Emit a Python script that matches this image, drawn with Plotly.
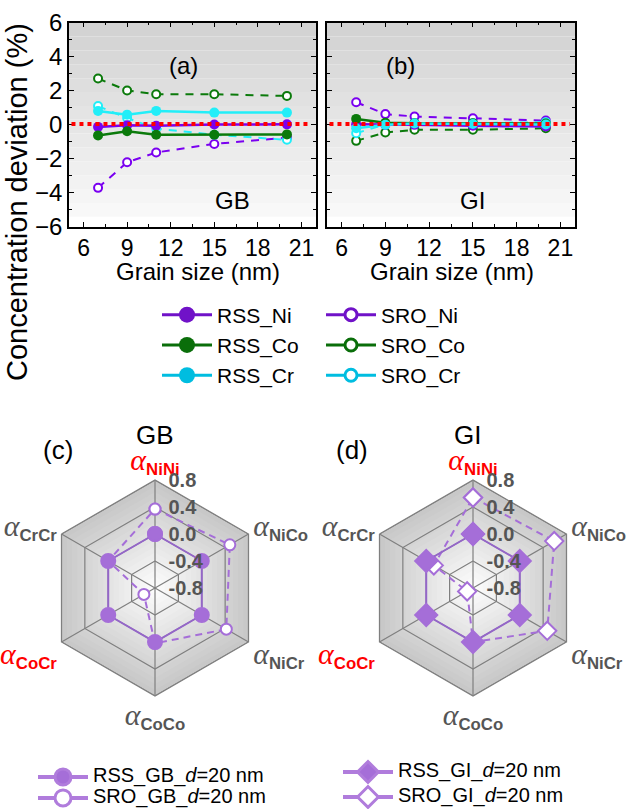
import plotly.graph_objects as go
import numpy as np

W, H = 630, 809
FONT = "Liberation Sans, Arial, sans-serif"

# ---------------- data: panels (a) GB and (b) GI ----------------
grain_size = [7, 9, 11, 15, 20]

gb_rss_ni = [-0.12, -0.02, -0.05, 0.02, 0.03]
gb_rss_co = [-0.62, -0.38, -0.58, -0.58, -0.56]
gb_rss_cr = [0.82, 0.60, 0.82, 0.72, 0.72]
gb_sro_ni = [-3.70, -2.20, -1.62, -1.12, -0.75]
gb_sro_co = [2.72, 2.02, 1.80, 1.80, 1.70]
gb_sro_cr = [1.10, 0.40, -0.22, -0.58, -0.88]

gi_rss_ni = [0.04, 0.00, 0.00, -0.05, -0.10]
gi_rss_co = [0.35, 0.12, 0.10, 0.10, 0.08]
gi_rss_cr = [-0.20, 0.00, 0.08, 0.05, 0.02]
gi_sro_ni = [1.33, 0.63, 0.49, 0.39, 0.25]
gi_sro_co = [-0.94, -0.45, -0.29, -0.29, -0.20]
gi_sro_cr = [-0.49, 0.02, 0.10, 0.10, 0.16]

x_ticks = [6, 9, 12, 15, 18, 21]
y_ticks = [-6, -4, -2, 0, 2, 4, 6]

# ---------------- data: radar panels (c) GB and (d) GI ----------------
pairs = ["NiNi", "NiCo", "NiCr", "CoCo", "CoCr", "CrCr"]
red_pairs = ["NiNi", "CoCr"]
gb_rss_alpha = [0.00, 0.00, 0.00, 0.00, 0.00, 0.00]
gb_sro_alpha = [0.37, 0.48, 0.42, 0.02, -0.61, 0.00]
gi_rss_alpha = [0.00, 0.00, 0.00, 0.00, 0.00, 0.00]
gi_sro_alpha = [0.54, 0.59, 0.47, 0.00, -0.70, -0.13]
r_ticks = [-0.8, -0.4, 0.0, 0.4, 0.8]

# ---------------- styles ----------------
C_NI, C_CO, C_CR = "#7a00f0", "#0b7a0b", "#22eef8"
L_NI, L_CO, L_CR = "#7012c8", "#0a6e0a", "#00bde0"
C_RAD = "#a56ed8"
C_RAD_LEG = "#b07cdc"
GRID = "#7f7f7f"

# The radial axis of the radar starts at r_ticks[0]; plotly hides markers on a
# linear-gridshape polar whose range starts below zero, so the radial scale is
# offset by R0 and labelled with the original values.
R0 = r_ticks[0]


def rs(v):
    return [x - R0 for x in v]


def fx(p):
    return p / W


def fy(p):
    return 1 - p / H


fig = go.Figure()

series = [
    ("Ni", C_NI, gb_rss_ni, gb_sro_ni, gi_rss_ni, gi_sro_ni),
    ("Co", C_CO, gb_rss_co, gb_sro_co, gi_rss_co, gi_sro_co),
    ("Cr", C_CR, gb_rss_cr, gb_sro_cr, gi_rss_cr, gi_sro_cr),
]

for ax, idx in (("", 0), ("2", 1)):
    for name, col, *vals in series:
        sro = vals[1] if idx == 0 else vals[3]
        fig.add_trace(go.Scatter(
            x=grain_size, y=sro, mode="lines+markers",
            line=dict(color=col, width=2, dash="8px,7px"),
            marker=dict(symbol="circle", size=8, color="white",
                        line=dict(color=col, width=2)),
            xaxis="x" + ax, yaxis="y" + ax, showlegend=False, hoverinfo="skip"))
    for name, col, *vals in series:
        rss = vals[0] if idx == 0 else vals[2]
        fig.add_trace(go.Scatter(
            x=grain_size, y=rss, mode="lines+markers",
            line=dict(color=col, width=2.5),
            marker=dict(symbol="circle", size=10, color=col),
            xaxis="x" + ax, yaxis="y" + ax, showlegend=False, hoverinfo="skip"))

# legend entries for the top panels
for name, col in (("Ni", L_NI), ("Co", L_CO), ("Cr", L_CR)):
    fig.add_trace(go.Scatter(
        x=[None], y=[None], mode="lines+markers", name="RSS_" + name,
        line=dict(color=col, width=3),
        marker=dict(symbol="circle", size=16, color=col), legend="legend"))
for name, col in (("Ni", L_NI), ("Co", L_CO), ("Cr", L_CR)):
    fig.add_trace(go.Scatter(
        x=[None], y=[None], mode="lines+markers", name="SRO_" + name,
        line=dict(color=col, width=3),
        marker=dict(symbol="circle", size=12, color="white",
                    line=dict(color=col, width=3)), legend="legend2"))

# ---------------- radar panels: shaded background + grid ----------------
theta_closed = pairs + [pairs[0]]
shade_r = np.linspace(r_ticks[-1], r_ticks[0] + 0.08, 18)
shade_c = np.linspace(200, 253, 18)
for pol in ("polar", "polar2"):
    for rv, cv in zip(shade_r, shade_c):
        c = int(cv)
        fig.add_trace(go.Scatterpolar(
            r=rs([rv] * 7), theta=theta_closed, mode="lines", fill="toself",
            fillcolor=f"rgb({c},{c},{c})", line=dict(width=0, color=f"rgb({c},{c},{c})"),
            subplot=pol, showlegend=False, hoverinfo="skip"))
    for rv in r_ticks[1:]:
        fig.add_trace(go.Scatterpolar(
            r=rs([rv] * 7), theta=theta_closed, mode="lines",
            line=dict(width=1.2, color=GRID), subplot=pol,
            showlegend=False, hoverinfo="skip"))
    for p in pairs:
        fig.add_trace(go.Scatterpolar(
            r=rs([r_ticks[0], r_ticks[-1]]), theta=[p, p], mode="lines",
            line=dict(width=1.2, color=GRID), subplot=pol,
            showlegend=False, hoverinfo="skip"))


def closed(v):
    return list(v) + [v[0]]


radar = [
    ("polar", gb_sro_alpha, "circle", 11, "white", True),
    ("polar", gb_rss_alpha, "circle", 14, C_RAD, False),
    ("polar2", gi_sro_alpha, "diamond", 14, "white", True),
    ("polar2", gi_rss_alpha, "diamond", 17, C_RAD, False),
]
for pol, vals, sym, sz, fc, dashed in radar:
    fig.add_trace(go.Scatterpolar(
        r=rs(closed(vals)), theta=theta_closed, mode="lines+markers",
        line=dict(color=C_RAD if dashed else "#9466c8", width=2,
                  dash="7px,5px" if dashed else "solid"),
        marker=dict(symbol=sym, size=sz, color=fc, line=dict(color=C_RAD, width=2)),
        subplot=pol, showlegend=False, hoverinfo="skip"))

# radar legends
rad_leg = [
    ("RSS_GB_<i>d</i>=20 nm", "circle", C_RAD, "legend3"),
    ("SRO_GB_<i>d</i>=20 nm", "circle", "white", "legend4"),
    ("RSS_GI_<i>d</i>=20 nm", "diamond", C_RAD, "legend5"),
    ("SRO_GI_<i>d</i>=20 nm", "diamond", "white", "legend6"),
]
for nm, sym, fc, lg in rad_leg:
    fig.add_trace(go.Scatter(
        x=[None], y=[None], mode="lines+markers",
        name=f'<span style="font-size:20px">{nm}</span>',
        line=dict(color=C_RAD_LEG, width=4),
        marker=dict(symbol=sym, size=16, color=fc, line=dict(color=C_RAD_LEG, width=3)),
        legend=lg))


def alpha_label(sub):
    col = "red" if sub in red_pairs else "#555555"
    return (f'<span style="color:{col}"><span style="font-family:Liberation Serif;font-size:30px">'
            f'<i>α</i></span><sub><b>{sub}</b></sub></span>')


polar_common = dict(
    gridshape="linear", bgcolor="rgba(0,0,0,0)",
    radialaxis=dict(range=[0, r_ticks[-1] - R0], tickmode="array", tickvals=rs(r_ticks),
                    ticktext=[f"<b>{v:.1f}</b>" for v in r_ticks],
                    angle=90, tickangle=90, showline=False, showgrid=False,
                    ticks="outside", ticklen=9, tickcolor="rgba(0,0,0,0)",
                    layer="above traces",
                    tickfont=dict(size=20, color="#555555", family=FONT)),
    angularaxis=dict(type="category", rotation=90, direction="clockwise",
                     tickmode="array", tickvals=pairs,
                     ticktext=[alpha_label(p) for p in pairs],
                     showline=True, linecolor=GRID, linewidth=1.2, showgrid=False,
                     ticks="", layer="above traces",
                     tickfont=dict(size=24, color="#555555", family=FONT)),
)

# ---------------- axes ----------------
xa = dict(range=[5, 22], tickmode="array", tickvals=x_ticks, ticks="inside", ticklen=5,
          tickcolor="black", showline=True, linecolor="black", linewidth=1.5,
          mirror="ticks", showgrid=False, zeroline=False,
          tickfont=dict(size=23, color="black", family=FONT),
          minor=dict(dtick=1.5, tick0=0, ticks="inside", ticklen=3, tickcolor="black"))
ya = dict(range=[-6, 6], tickmode="array", tickvals=y_ticks, ticks="inside", ticklen=5,
          tickcolor="black", showline=True, linecolor="black", linewidth=1.5,
          mirror="ticks", showgrid=False, zeroline=False,
          tickfont=dict(size=24, color="black", family=FONT),
          minor=dict(dtick=1, tick0=0, ticks="inside", ticklen=3, tickcolor="black"))

yd = [fy(227), fy(22.7)]

# background gradient bands
shapes = []
edges = np.linspace(6, -5.4, 15)
cols = np.linspace(211, 248, 14)
for ref in ("", "2"):
    for i in range(14):
        c = int(cols[i])
        shapes.append(dict(type="rect", xref=f"x{ref} domain", yref=f"y{ref}",
                           x0=0, x1=1, y0=edges[i + 1], y1=edges[i], layer="below",
                           line=dict(width=0), fillcolor=f"rgb({c},{c},{c})"))
    shapes.append(dict(type="line", xref=f"x{ref} domain", yref=f"y{ref}",
                       x0=0.01, x1=0.98, y0=0.05, y1=0.05, layer="above",
                       line=dict(color="red", width=4, dash="dot")))

leg_base = dict(bgcolor="rgba(0,0,0,0)", xanchor="left", yanchor="middle",
                font=dict(size=21, family=FONT, color="black"), itemwidth=50,
                tracegroupgap=0)
leg_bot = dict(leg_base, font=dict(size=13, family=FONT, color="black"))

ann = []


def add_text(t, x, y, size, color="black", **kw):
    ann.append(dict(text=t, x=fx(x), y=fy(y), xref="paper", yref="paper",
                    xanchor="center", yanchor="middle",
                    showarrow=False, font=dict(size=size, color=color, family=FONT), **kw))


add_text("(a)", 183, 65, 24)
add_text("GB", 232, 200, 24)
add_text("(b)", 400, 65, 24)
add_text("GI", 472, 200, 24)
add_text("Grain size (nm)", 198, 271, 24)
add_text("Grain size (nm)", 452, 271, 24)
add_text("Concentration deviation (%)", 17, 202, 29, textangle=-90)
add_text("(c)", 58, 450, 26)
add_text("GB", 155, 435, 26)
add_text("(d)", 352, 450, 26)
add_text("GI", 467, 435, 26)

fig.update_layout(
    width=W, height=H, margin=dict(l=0, r=0, t=0, b=0, autoexpand=False),
    paper_bgcolor="white", plot_bgcolor="white",
    font=dict(family=FONT, color="black"),
    xaxis=dict(domain=[fx(69), fx(316)], anchor="y", **xa),
    yaxis=dict(domain=yd, anchor="x", **ya),
    xaxis2=dict(domain=[fx(327), fx(575)], anchor="y2", **xa),
    yaxis2=dict(domain=yd, anchor="x2", showticklabels=False, **ya),
    polar=dict(domain=dict(x=[fx(47), fx(263)], y=[fy(696), fy(480)]), **polar_common),
    polar2=dict(domain=dict(x=[fx(365), fx(581)], y=[fy(696), fy(480)]), **polar_common),
    legend=dict(x=fx(157), y=fy(345), **leg_base),
    legend2=dict(x=fx(321), y=fy(345), **leg_base),
    legend3=dict(leg_bot, x=fx(33), y=fy(777)),
    legend4=dict(leg_bot, x=fx(33), y=fy(798)),
    legend5=dict(leg_bot, x=fx(338), y=fy(772)),
    legend6=dict(leg_bot, x=fx(338), y=fy(797)),
    shapes=shapes, annotations=ann,
)

fig.write_html("out.html", config={"displayModeBar": False},
               post_script="document.body.style.margin='0';document.body.style.padding='0';")
